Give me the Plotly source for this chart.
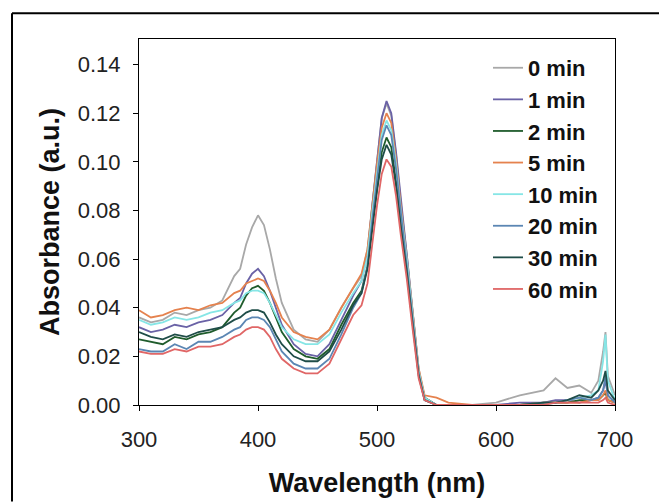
import plotly.graph_objects as go

wavelength = [300,310,320,330,340,350,360,370,380,385,390,395,400,405,410,415,420,430,440,450,
              460,470,480,487,492,496,500,504,508,512,516,520,525,530,535,540,
              550,560,580,600,620,640,650,660,670,680,686,690,692,694,700]

labels = ["0 min", "1 min", "2 min", "5 min", "10 min", "20 min", "30 min", "60 min"]
colors = ["#a8a8a8", "#6a62a6", "#1f5c2c", "#e5824e", "#86e6e6", "#5b86b3", "#1f4d48", "#e06666"]

a_0min = [.036,.034,.035,.038,.037,.039,.040,.043,.053,.056,.066,.073,.078,.074,.064,.052,.042,.031,.027,.026,
          .031,.040,.048,.053,.064,.083,.101,.118,.124,.119,.103,.083,.062,.038,.015,.003,
          .000,.000,.000,.001,.004,.006,.011,.007,.008,.005,.010,.022,.030,.012,.004]
a_1min = [.032,.030,.031,.033,.032,.034,.035,.037,.042,.044,.050,.054,.056,.053,.047,.040,.033,.025,.021,.020,
          .025,.035,.045,.051,.062,.082,.101,.118,.125,.120,.104,.084,.062,.038,.014,.003,
          .000,.000,.000,.000,.001,.001,.002,.002,.001,.002,.003,.006,.010,.004,.001]
a_2min = [.027,.026,.025,.028,.027,.029,.030,.032,.038,.040,.045,.048,.049,.047,.042,.036,.030,.023,.020,.019,
          .023,.033,.042,.047,.057,.074,.090,.104,.110,.106,.092,.075,.056,.034,.013,.003,
          .000,.000,.000,.000,.000,.001,.001,.001,.002,.002,.002,.004,.005,.002,.001]
a_5min = [.039,.036,.037,.039,.040,.039,.041,.042,.046,.047,.050,.051,.052,.051,.047,.042,.036,.030,.028,.027,
          .031,.040,.048,.054,.064,.082,.099,.114,.120,.116,.101,.082,.061,.038,.015,.004,
          .003,.001,.000,.000,.000,.001,.001,.001,.001,.002,.002,.004,.006,.002,.001]
a_10min = [.035,.033,.034,.036,.035,.036,.038,.039,.042,.043,.046,.047,.047,.046,.042,.037,.032,.027,.025,.025,
           .029,.038,.046,.051,.061,.079,.096,.111,.117,.113,.099,.080,.060,.037,.014,.003,
           .000,.000,.000,.000,.000,.000,.001,.002,.003,.004,.006,.018,.029,.010,.002]
a_20min = [.023,.022,.022,.025,.023,.026,.026,.028,.031,.032,.035,.036,.036,.035,.032,.027,.022,.017,.015,.015,
           .019,.029,.040,.046,.057,.076,.093,.109,.115,.111,.097,.079,.059,.036,.013,.002,
           .000,.000,.000,.000,.000,.001,.001,.002,.003,.002,.003,.006,.012,.004,.001]
a_30min = [.030,.028,.027,.029,.028,.030,.031,.032,.035,.036,.038,.039,.039,.038,.034,.029,.025,.020,.018,.018,
           .022,.031,.041,.046,.056,.072,.088,.101,.107,.103,.090,.073,.055,.033,.012,.002,
           .000,.000,.000,.000,.000,.001,.001,.002,.004,.003,.006,.010,.014,.006,.002]
a_60min = [.022,.021,.021,.023,.022,.024,.024,.025,.028,.029,.031,.032,.032,.031,.028,.023,.019,.015,.013,.013,
           .017,.027,.037,.041,.050,.066,.082,.095,.101,.098,.086,.070,.052,.031,.011,.002,
           .000,.000,.000,.000,.000,.000,.001,.001,.001,.001,.001,.002,.003,.001,.000]

series = [a_0min, a_1min, a_2min, a_5min, a_10min, a_20min, a_30min, a_60min]

x_ticks = [300, 400, 500, 600, 700]
y_ticks = [0.00, 0.02, 0.04, 0.06, 0.08, 0.10, 0.12, 0.14]

fig = go.Figure()
for lab, col, ys in zip(labels, colors, series):
    fig.add_trace(go.Scatter(x=wavelength, y=ys, mode="lines", name=lab,
                             line=dict(color=col, width=1.8)))

FAM = "Arial, Liberation Sans, sans-serif"
tick_font = dict(family=FAM, size=22, color="#222222")
title_font = dict(family=FAM, size=27, color="#111111", weight="bold")

W, H = 659, 496
L, T, R, B = 131, 31, 52, 97
pw, ph = W - L - R, H - T - B

def px(x):
    return (x - L) / pw

def py(y):
    return (H - B - y) / ph

fig.update_layout(
    width=W, height=H,
    margin=dict(l=L, r=R, t=T, b=B),
    paper_bgcolor="white", plot_bgcolor="white",
    showlegend=True,
    legend=dict(x=px(480), y=py(39), xanchor="left", yanchor="top",
                bgcolor="rgba(0,0,0,0)", tracegroupgap=0,
                font=dict(family=FAM, size=22, color="#111111", weight="bold")),
    xaxis=dict(range=[300, 700], tickvals=x_ticks, ticktext=[str(v) for v in x_ticks],
               showline=True, linecolor="black", linewidth=1.2, mirror=True,
               ticks="outside", ticklen=5, tickcolor="black", ticklabelstandoff=9,
               showgrid=False, zeroline=False, tickfont=tick_font,
               title=dict(text="Wavelength (nm)", font=title_font, standoff=22)),
    yaxis=dict(range=[0, 0.1505], tickvals=y_ticks, ticktext=[f"{v:.2f}" for v in y_ticks],
               showline=True, linecolor="black", linewidth=1.2, mirror=True,
               ticks="outside", ticklen=5, tickcolor="black", ticklabelstandoff=8,
               showgrid=False, zeroline=False, tickfont=tick_font,
               title=dict(text="Absorbance (a.u.)", font=title_font, standoff=10)),
    shapes=[
        dict(type="line", xref="paper", yref="paper", x0=px(4), x1=px(W),
             y0=py(5), y1=py(5), line=dict(color="black", width=2)),
        dict(type="line", xref="paper", yref="paper", x0=px(4), x1=px(4),
             y0=py(5), y1=py(H), line=dict(color="black", width=2)),
    ],
)

fig.write_html("out.html")
